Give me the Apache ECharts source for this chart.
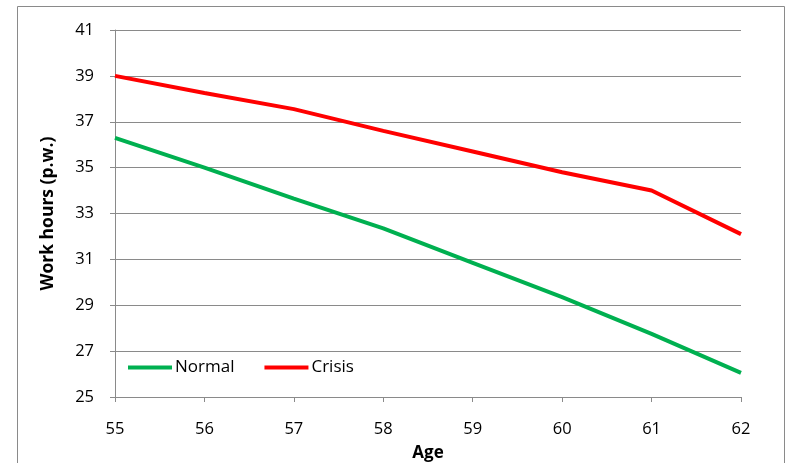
<!DOCTYPE html>
<html>
<head>
<meta charset="utf-8">
<script src="https://cdn.jsdelivr.net/npm/echarts@6/dist/echarts.min.js"></script>
<style>
html,body{margin:0;padding:0;background:#fff;}
#chart{width:786px;height:463px;}
</style>
</head>
<body>
<div id="chart"></div>
<script>
const ages = [55, 56, 57, 58, 59, 60, 61, 62];
const normal = [36.3, 35.0, 33.65, 32.35, 30.85, 29.35, 27.75, 26.05];
const crisis = [39.0, 38.25, 37.55, 36.6, 35.7, 34.8, 34.0, 32.1];
const seriesNames = ['Normal', 'Crisis'];
const xTitle = 'Age';
const yTitle = 'Work hours (p.w.)';

const FONT = '"Open Sans", Lato, sans-serif';
const chart = echarts.init(document.getElementById('chart'), null, {renderer: 'canvas'});
chart.setOption({
  animation: false,
  backgroundColor: '#fff',
  graphic: [{
    type: 'rect',
    shape: {x: 17.5, y: 6.5, width: 767, height: 480},
    style: {fill: 'none', stroke: '#8a8a8a', lineWidth: 1},
    z: -10
  }],
  grid: {left: 115, right: 45, top: 30, bottom: 66, outerBoundsMode: 'none', containLabel: false},
  legend: {
    left: 128, top: 359, padding: 0,
    icon: 'rect', itemWidth: 44, itemHeight: 4, itemGap: 30,
    textStyle: {fontFamily: FONT, fontSize: 17, color: '#000', padding: [0, 0, 0, -2]},
    data: seriesNames
  },
  xAxis: {
    type: 'value', min: 55, max: 62, interval: 1,
    name: xTitle, nameLocation: 'middle', nameGap: 48,
    nameTextStyle: {fontFamily: FONT, fontSize: 17, fontWeight: 'bold', color: '#000'},
    axisLine: {show: true, lineStyle: {color: '#8a8a8a', width: 1}},
    axisTick: {show: true, length: 5, lineStyle: {color: '#8a8a8a'}},
    axisLabel: {fontFamily: FONT, fontSize: 16.5, color: '#000', margin: 24},
    splitLine: {show: false}
  },
  yAxis: {
    type: 'value', min: 25, max: 41, interval: 2,
    name: yTitle, nameLocation: 'middle', nameGap: 58, nameRotate: 90,
    nameTextStyle: {fontFamily: FONT, fontSize: 17.5, fontWeight: 'bold', color: '#000'},
    axisLine: {show: true, lineStyle: {color: '#8a8a8a', width: 1}},
    axisTick: {show: true, length: 5, lineStyle: {color: '#8a8a8a'}},
    axisLabel: {fontFamily: FONT, fontSize: 16.5, color: '#000', margin: 21},
    splitLine: {show: true, lineStyle: {color: '#8a8a8a', width: 1}}
  },
  series: [
    {
      name: seriesNames[0], type: 'line', symbol: 'none',
      data: ages.map((a, i) => [a, normal[i]]),
      lineStyle: {color: '#00B050', width: 4}, itemStyle: {color: '#00B050'}
    },
    {
      name: seriesNames[1], type: 'line', symbol: 'none',
      data: ages.map((a, i) => [a, crisis[i]]),
      lineStyle: {color: '#FF0000', width: 4}, itemStyle: {color: '#FF0000'}
    }
  ]
});
</script>
</body>
</html>
